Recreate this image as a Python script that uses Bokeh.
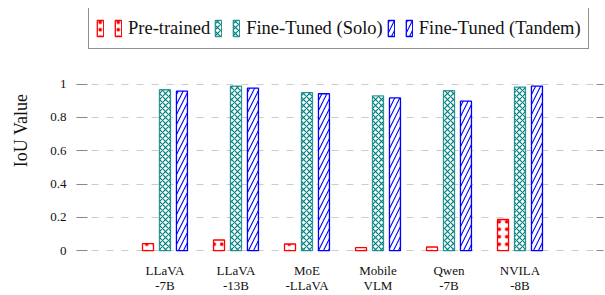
from bokeh.plotting import figure
from bokeh.models import (ColumnDataSource, Range1d, FixedTicker, LinearAxis,
                          Legend, LegendItem)
from bokeh.transform import dodge
from bokeh.core.properties import value
from bokeh.embed import file_html
from bokeh.resources import INLINE

# ---- data ----
models = ["LLaVA\n-7B", "LLaVA\n-13B", "MoE\n-LLaVA", "Mobile\nVLM", "Qwen\n-7B", "NVILA\n-8B"]
pretrained = [0.042, 0.064, 0.040, 0.018, 0.022, 0.187]
solo = [0.966, 0.988, 0.949, 0.929, 0.961, 0.982]
tandem = [0.958, 0.976, 0.942, 0.917, 0.898, 0.988]
series_names = ["Pre-trained", "Fine-Tuned (Solo)", "Fine-Tuned (Tandem)"]
y_ticks = [0, 0.2, 0.4, 0.6, 0.8, 1]
y_tick_labels = ["0", "0.2", "0.4", "0.6", "0.8", "1"]

idx = list(range(len(models)))
source = ColumnDataSource(dict(x=idx, pre=pretrained, solo=solo, tandem=tandem))

SERIF = "Liberation Serif"
RED = "#ff0000"
TEAL = "#008080"
BLUE = "#0000ff"

p = figure(width=605, height=295, output_backend="svg",
           toolbar_location=None, x_range=Range1d(-1.246, 6.176),
           y_range=Range1d(-0.011, 1.4536), min_border_left=76,
           min_border_top=8, min_border_right=2, min_border_bottom=37)
p.outline_line_color = None
p.background_fill_color = "white"

bw = 0.155
off = 0.239
r_pre = p.vbar(x=dodge("x", -off, range=p.x_range), top="pre", width=bw, source=source,
               fill_color="white", line_color=RED, line_width=1.3,
               hatch_pattern="dot", hatch_color=RED, hatch_scale=7.5, hatch_weight=2.2)
r_solo = p.vbar(x=dodge("x", 0, range=p.x_range), top="solo", width=bw, source=source,
                fill_color="white", line_color=TEAL, line_width=1.3, line_alpha=0.8,
                hatch_pattern="diagonal_cross", hatch_color=TEAL, hatch_scale=6, hatch_weight=1.2)
r_tan = p.vbar(x=dodge("x", off, range=p.x_range), top="tandem", width=bw, source=source,
               fill_color="white", line_color=BLUE, line_width=1.3,
               hatch_pattern="right_diagonal_line", hatch_color=BLUE, hatch_scale=10, hatch_weight=1.1)

# axes
p.xaxis.ticker = FixedTicker(ticks=idx)
p.xaxis.major_label_overrides = {i: m for i, m in zip(idx, models)}
p.xaxis.axis_line_color = None
p.xaxis.major_tick_line_color = None
p.xaxis.minor_tick_line_color = None
p.xaxis.major_label_text_font = SERIF
p.xaxis.major_label_text_font_size = "13px"
p.xaxis.major_label_text_color = "#111111"
p.xaxis.major_label_text_line_height = 1.0
p.xaxis.major_label_standoff = 4

p.yaxis.ticker = FixedTicker(ticks=y_ticks)
p.yaxis.major_label_overrides = {t: l for t, l in zip(y_ticks, y_tick_labels)}
p.yaxis.axis_line_color = None
p.yaxis.major_tick_in = 11
p.yaxis.major_tick_out = 0
p.yaxis.major_tick_line_color = "#888888"
p.yaxis.minor_tick_line_color = None
p.yaxis.major_label_text_font = SERIF
p.yaxis.major_label_text_font_size = "13px"
p.yaxis.major_label_text_color = "#111111"
p.yaxis.major_label_standoff = 10
p.yaxis.axis_label = "IoU Value"
p.yaxis.axis_label_text_font = SERIF
p.yaxis.axis_label_text_font_size = "18px"
p.yaxis.axis_label_text_font_style = "normal"
p.yaxis.axis_label_text_color = "#111111"
p.yaxis.axis_label_standoff = 16

raxis = LinearAxis(ticker=FixedTicker(ticks=y_ticks), axis_line_color=None,
                   major_tick_in=7, major_tick_out=0, major_tick_line_color="#888888",
                   minor_tick_line_color=None,
                   major_label_overrides={t: "" for t in y_ticks},
                   major_label_standoff=0)
p.add_layout(raxis, "right")

p.xgrid.grid_line_color = None
p.ygrid.ticker = FixedTicker(ticks=y_ticks)
p.ygrid.grid_line_color = "#cccccc"
p.ygrid.grid_line_dash = "7 8"
p.ygrid.grid_line_width = 1

items = []
for r, name in zip([r_pre, r_solo, r_tan], series_names):
    items.append(LegendItem(label=value(""), renderers=[r]))
    items.append(LegendItem(label=value(name), renderers=[r]))

legend = Legend(items=items, orientation="horizontal", location=(12, 203),
                glyph_width=8, glyph_height=20, label_height=26, label_width=0,
                label_standoff=6, spacing=4, padding=7,
                label_text_font=SERIF, label_text_font_size="18.5px",
                label_text_color="#111111",
                border_line_color="#222222", border_line_width=1,
                background_fill_color="white", background_fill_alpha=1)
p.add_layout(legend, "center")

open("out.html", "w").write(file_html(p, INLINE))
